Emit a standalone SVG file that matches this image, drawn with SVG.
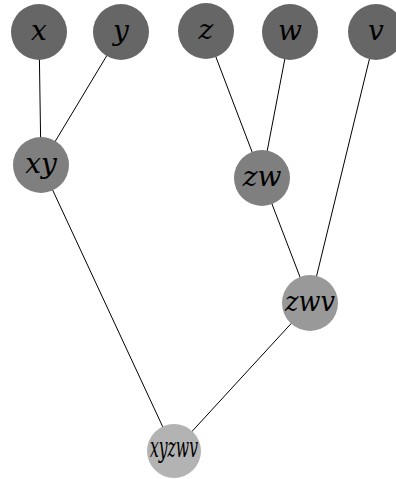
<svg xmlns="http://www.w3.org/2000/svg" width="396" height="479" viewBox="0 0 396 479">
<style>
.e{stroke:#000;stroke-width:1;fill:none}
.n1{fill:#666666}
.n2{fill:#7f7f7f}
.n3{fill:#999999}
.n4{fill:#b3b3b3}
.t{fill:#000;text-anchor:middle;font-size:28px;font-family:"DejaVu Serif",serif;font-style:italic}
</style>
<rect width="396" height="479" fill="#fff"/>
<g id="connectors">
<line class="e" x1="39" y1="32" x2="41" y2="165"/>
<line class="e" x1="121" y1="32" x2="41" y2="165"/>
<line class="e" x1="206" y1="31" x2="262" y2="178"/>
<line class="e" x1="290" y1="32" x2="262" y2="178"/>
<line class="e" x1="376" y1="32" x2="310" y2="303"/>
<line class="e" x1="262" y1="178" x2="310" y2="303"/>
<line class="e" x1="41" y1="165" x2="174" y2="451"/>
<line class="e" x1="310" y1="303" x2="174" y2="451"/>
</g>
<g id="x"><circle class="n1" cx="39" cy="32" r="28"/><text class="t" x="39" y="40">x</text></g>
<g id="y"><circle class="n1" cx="121" cy="32" r="28"/><text class="t" x="121" y="40">y</text></g>
<g id="z"><circle class="n1" cx="206" cy="31" r="28"/><text class="t" x="206" y="39">z</text></g>
<g id="w"><circle class="n1" cx="290" cy="32" r="28"/><text class="t" x="290" y="40">w</text></g>
<g id="v"><circle class="n1" cx="376" cy="32" r="28"/><text class="t" x="376" y="40">v</text></g>
<g id="xy"><circle class="n2" cx="41" cy="165" r="28"/><text class="t" x="41" y="173">xy</text></g>
<g id="zw"><circle class="n2" cx="262" cy="178" r="28"/><text class="t" x="262" y="186">zw</text></g>
<g id="zwv"><circle class="n3" cx="310" cy="303" r="28"/><text class="t" x="310" y="311" textLength="50" lengthAdjust="spacingAndGlyphs">zwv</text></g>
<g id="xyzwv"><circle class="n4" cx="174" cy="451" r="27"/><text class="t" x="174" y="457" font-size="20" textLength="48" lengthAdjust="spacingAndGlyphs">xyzwv</text></g>
</svg>
